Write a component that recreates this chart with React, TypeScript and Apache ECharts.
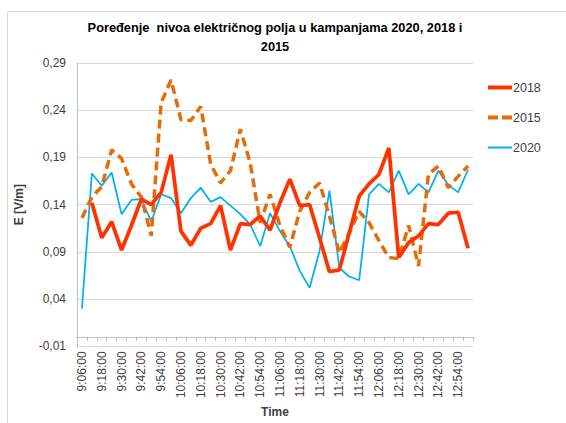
import React, { useEffect, useRef } from "react";
import * as echarts from "echarts";

const times = [
  "9:06:00", "9:12:00", "9:18:00", "9:24:00", "9:30:00", "9:36:00", "9:42:00", "9:48:00",
  "9:54:00", "10:00:00", "10:06:00", "10:12:00", "10:18:00", "10:24:00", "10:30:00", "10:36:00",
  "10:42:00", "10:48:00", "10:54:00", "11:00:00", "11:06:00", "11:12:00", "11:18:00", "11:24:00",
  "11:30:00", "11:36:00", "11:42:00", "11:48:00", "11:54:00", "12:00:00", "12:06:00", "12:12:00",
  "12:18:00", "12:24:00", "12:30:00", "12:36:00", "12:42:00", "12:48:00", "12:54:00", "13:00:00",
];

const values2018 = [
  null, 0.142, 0.105, 0.122, 0.092, 0.118, 0.146, 0.140, 0.153, 0.193,
  0.112, 0.097, 0.115, 0.120, 0.139, 0.092, 0.120, 0.119, 0.128, 0.113,
  0.142, 0.167, 0.139, 0.140, 0.105, 0.069, 0.071, 0.110, 0.149, 0.162,
  0.172, 0.200, 0.084, 0.100, 0.107, 0.120, 0.119, 0.131, 0.132, 0.094,
];

const values2015 = [
  0.126, 0.148, 0.159, 0.198, 0.189, 0.162, 0.148, 0.107, 0.248, 0.272,
  0.230, 0.229, 0.244, 0.183, 0.163, 0.176, 0.220, 0.184, 0.121, 0.151,
  0.118, 0.095, 0.133, 0.153, 0.163, 0.128, 0.089, 0.110, 0.133, 0.121,
  0.102, 0.084, 0.083, 0.118, 0.075, 0.172, 0.181, 0.158, 0.170, 0.181,
];

const values2020 = [
  0.030, 0.173, 0.160, 0.174, 0.130, 0.145, 0.146, 0.122, 0.151, 0.147,
  0.131, 0.147, 0.158, 0.143, 0.148, 0.139, 0.130, 0.119, 0.096, 0.131,
  0.112, 0.096, 0.070, 0.052, 0.091, 0.155, 0.073, 0.064, 0.060, 0.151,
  0.162, 0.153, 0.176, 0.151, 0.162, 0.153, 0.176, 0.161, 0.153, 0.177,
];

const FONT = "'Liberation Sans', Arial, sans-serif";

const ICON_SOLID_THICK = "path://M0,0h24v4h-24z";
const ICON_DASHED = "path://M0,0h10v4h-10z M14,0h10v4h-10z";
const ICON_SOLID_THIN = "path://M0,0h24v2h-24z";

export default function App() {
  const ref = useRef<HTMLDivElement>(null);

  useEffect(() => {
    document.body.style.margin = "0";
    if (!ref.current) return;
    const chart = echarts.init(ref.current, undefined, { renderer: "svg" });
    chart.setOption({
      animation: false,
      backgroundColor: "#ffffff",
      textStyle: { fontFamily: FONT },
      graphic: [
        {
          type: "rect",
          shape: { x: 7.5, y: 11.5, width: 600, height: 500 },
          style: { fill: "none", stroke: "#d9d9d9", lineWidth: 1 },
          silent: true,
          z: -10,
        },
      ],
      title: {
        text: "Poređenje  nivoa električnog polja u kampanjama 2020, 2018 i\n2015",
        left: 270,
        textAlign: "center",
        top: 13,
        textStyle: {
          fontFamily: FONT,
          fontSize: 12.8,
          fontWeight: "bold",
          color: "#000000",
          lineHeight: 19,
        },
      },
      legend: {
        orient: "vertical",
        left: 483,
        top: 76,
        itemWidth: 24,
        itemHeight: 14,
        itemGap: 17,
        symbolKeepAspect: true,
        data: [
          { name: "2018", icon: ICON_SOLID_THICK },
          { name: "2015", icon: ICON_DASHED },
          { name: "2020", icon: ICON_SOLID_THIN },
        ],
        textStyle: { fontFamily: FONT, fontSize: 12.5, color: "#404040", padding: [0, 0, 0, -4] },
      },
      grid: { left: 77, right: 93, top: 63, bottom: 76, containLabel: false },
      xAxis: {
        type: "category",
        data: times,
        boundaryGap: true,
        name: "Time",
        nameLocation: "middle",
        nameGap: 59,
        nameTextStyle: { fontFamily: FONT, fontSize: 12, fontWeight: "bold", color: "#404040" },
        axisLine: { lineStyle: { color: "#bfbfbf", width: 1 } },
        axisTick: { show: true, interval: 0, alignWithLabel: false, length: 4, lineStyle: { color: "#bfbfbf" } },
        axisLabel: {
          interval: 1,
          rotate: 90,
          margin: 5,
          fontFamily: FONT,
          fontSize: 12,
          color: "#404040",
        },
        splitLine: { show: false },
      },
      yAxis: {
        type: "value",
        min: -0.01,
        max: 0.29,
        interval: 0.05,
        name: "E [V/m]",
        nameLocation: "middle",
        nameGap: 52,
        nameTextStyle: { fontFamily: FONT, fontSize: 12, fontWeight: "bold", color: "#404040" },
        axisLine: { show: true, lineStyle: { color: "#bfbfbf", width: 1 } },
        axisTick: { show: false },
        axisLabel: {
          margin: 11,
          fontFamily: FONT,
          fontSize: 12,
          color: "#404040",
          formatter: (v: number) => v.toFixed(2).replace(".", ","),
        },
        splitLine: { show: true, lineStyle: { color: "#d9d9d9", width: 1 } },
      },
      series: [
        {
          name: "2020",
          type: "line",
          data: values2020,
          symbol: "none",
          connectNulls: false,
          lineStyle: { color: "#00B0F0", width: 1.75 },
          itemStyle: { color: "#00B0F0" },
          z: 2,
        },
        {
          name: "2015",
          type: "line",
          data: values2015,
          symbol: "none",
          lineStyle: { color: "#E46C0A", width: 3.5, type: [9, 5] },
          itemStyle: { color: "#E46C0A" },
          z: 3,
        },
        {
          name: "2018",
          type: "line",
          data: values2018,
          symbol: "none",
          lineStyle: { color: "#FF3300", width: 3.75 },
          itemStyle: { color: "#FF3300" },
          z: 4,
        },
      ],
    });
    return () => chart.dispose();
  }, []);

  return <div ref={ref} style={{ width: 566, height: 423 }} />;
}
